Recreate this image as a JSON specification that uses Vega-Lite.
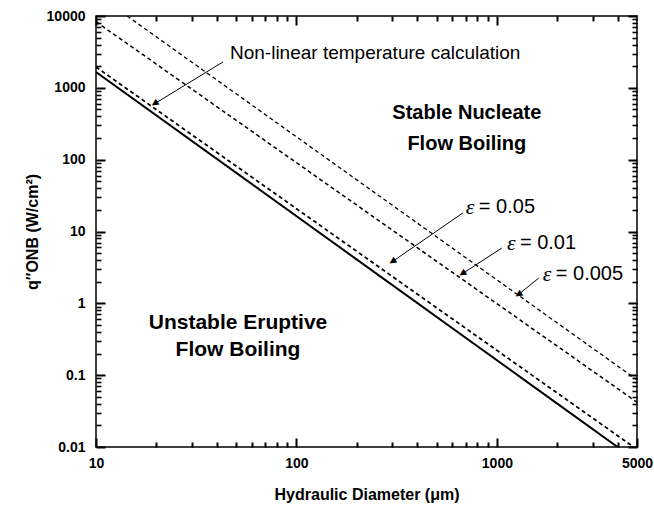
{
  "$schema": "https://vega.github.io/schema/vega-lite/v6.json",
  "width": 541,
  "height": 431,
  "autosize": "none",
  "padding": {"left": 96, "top": 16, "right": 17, "bottom": 59},
  "background": "white",
  "config": {
    "view": {"stroke": "black", "strokeWidth": 1.5},
    "font": "Liberation Sans",
    "axis": {"tickColor": "black", "tickWidth": 2, "domain": false, "grid": false, "ticks": true}
  },
  "datasets": {
    "lines": [
      {"series": "solid", "D": 10, "q": 1660},
      {"series": "solid", "D": 4000, "q": 0.01},
      {"series": "e005", "D": 10, "q": 1950},
      {"series": "e005", "D": 4810, "q": 0.01},
      {"series": "e001", "D": 10, "q": 8330},
      {"series": "e001", "D": 5000, "q": 0.042},
      {"series": "e0005", "D": 14.3, "q": 10000},
      {"series": "e0005", "D": 5000, "q": 0.086}
    ],
    "stable": [
      {"D": 708, "q": 447, "t": "Stable Nucleate"},
      {"D": 708, "q": 165, "t": "Flow Boiling"}
    ],
    "unstable": [
      {"D": 51.1, "q": 0.532, "t": "Unstable Eruptive"},
      {"D": 51.1, "q": 0.224, "t": "Flow Boiling"}
    ],
    "nonlin": [
      {"D": 46.6, "q": 3055, "t": "Non-linear temperature calculation"}
    ],
    "eps": [
      {"D": 700, "q": 21.9, "t": "= 0.05"},
      {"D": 1122, "q": 6.92, "t": "= 0.01"},
      {"D": 1694, "q": 2.56, "t": "= 0.005"}
    ],
    "arrows": [
      {"D": 43.0, "q": 2291, "D2": 19.5, "q2": 596},
      {"D": 676, "q": 18.1, "D2": 299, "q2": 3.76},
      {"D": 1059, "q": 5.89, "D2": 668, "q2": 2.56},
      {"D": 1618, "q": 2.25, "D2": 1274, "q2": 1.31}
    ]
  },
  "layer": [
    {
      "data": {"name": "lines"},
      "mark": {"type": "line", "color": "black", "clip": true},
      "encoding": {
        "x": {
          "field": "D", "type": "quantitative",
          "scale": {"type": "log", "domain": [10, 5000], "nice": false},
          "axis": {
            "orient": "bottom",
            "values": [10, 100, 1000, 5000],
            "labelExpr": "format(datum.value, '~r')",
            "tickSize": -9, "tickColor": "black", "tickWidth": 2,
            "labelFontWeight": "bold", "labelFontSize": 14, "labelColor": "black",
            "labelPadding": 18, "labelOverlap": false, "labelBound": false, "labelFlush": false,
            "title": "Hydraulic Diameter (μm)",
            "titleFontSize": 16, "titleFontWeight": "bold", "titleColor": "black",
            "titlePadding": 16
          }
        },
        "y": {
          "field": "q", "type": "quantitative",
          "scale": {"type": "log", "domain": [0.01, 10000], "nice": false},
          "axis": {
            "orient": "left",
            "values": [0.01, 0.1, 1, 10, 100, 1000, 10000],
            "labelExpr": "format(datum.value, '~r')",
            "tickSize": -9, "tickColor": "black", "tickWidth": 2,
            "labelFontWeight": "bold", "labelFontSize": 14, "labelColor": "black",
            "labelPadding": 20, "labelOverlap": false, "labelBound": false, "labelFlush": false,
            "title": "q″ONB (W/cm²)",
            "titleFontSize": 16, "titleFontWeight": "bold", "titleColor": "black",
            "titlePadding": 6
          }
        },
        "strokeDash": {
          "field": "series", "type": "nominal",
          "scale": {"domain": ["solid", "e005", "e001", "e0005"], "range": [[1, 0], [4, 3], [4, 3], [4, 3]]},
          "legend": null
        },
        "strokeWidth": {
          "field": "series", "type": "nominal",
          "scale": {"domain": ["solid", "e005", "e001", "e0005"], "range": [2, 1.3, 1.3, 1.3]},
          "legend": null
        }
      }
    },
    {
      "data": {"name": "arrows"},
      "mark": {"type": "rule", "color": "black", "strokeWidth": 1},
      "encoding": {
        "x": {
          "field": "D", "type": "quantitative",
          "scale": {"type": "log", "domain": [10, 5000], "nice": false},
          "axis": {
            "orient": "bottom",
            "values": [20,30,40,50,60,70,80,90,200,300,400,500,600,700,800,900,2000,3000,4000],
            "labels": false, "tickSize": -5, "tickColor": "black", "tickWidth": 2, "title": null
          }
        },
        "y": {
          "field": "q", "type": "quantitative",
          "scale": {"type": "log", "domain": [0.01, 10000], "nice": false},
          "axis": {
            "orient": "left",
            "values": [0.02,0.03,0.04,0.05,0.06,0.07,0.08,0.09,0.2,0.3,0.4,0.5,0.6,0.7,0.8,0.9,2,3,4,5,6,7,8,9,20,30,40,50,60,70,80,90,200,300,400,500,600,700,800,900,2000,3000,4000,5000,6000,7000,8000,9000],
            "labels": false, "tickSize": -5, "tickColor": "black", "tickWidth": 1.6, "title": null
          }
        },
        "x2": {"field": "D2"},
        "y2": {"field": "q2"}
      }
    },
    {
      "data": {"name": "arrows"},
      "mark": {"type": "text", "text": "▲", "font": "DejaVu Sans", "fontSize": 9, "angle": 237, "align": "center", "baseline": "middle", "color": "black"},
      "encoding": {
        "x": {
          "field": "D2", "type": "quantitative",
          "scale": {"type": "log", "domain": [10, 5000], "nice": false},
          "axis": {
            "orient": "top",
            "values": [20,30,40,50,60,70,80,90,200,300,400,500,600,700,800,900,2000,3000,4000],
            "labels": false, "tickSize": -5, "tickColor": "black", "tickWidth": 2, "title": null
          }
        },
        "y": {
          "field": "q2", "type": "quantitative",
          "scale": {"type": "log", "domain": [0.01, 10000], "nice": false},
          "axis": {
            "orient": "right",
            "values": [0.02,0.03,0.04,0.05,0.06,0.07,0.08,0.09,0.2,0.3,0.4,0.5,0.6,0.7,0.8,0.9,2,3,4,5,6,7,8,9,20,30,40,50,60,70,80,90,200,300,400,500,600,700,800,900,2000,3000,4000,5000,6000,7000,8000,9000],
            "labels": false, "tickSize": -5, "tickColor": "black", "tickWidth": 1.6, "title": null
          }
        }
      }
    },
    {
      "encoding": {
        "x": {
          "field": "D", "type": "quantitative",
          "scale": {"type": "log", "domain": [10, 5000], "nice": false},
          "axis": {
            "orient": "top",
            "values": [10, 100, 1000],
            "labels": false, "tickSize": -9, "tickColor": "black", "tickWidth": 2, "title": null
          }
        },
        "y": {
          "field": "q", "type": "quantitative",
          "scale": {"type": "log", "domain": [0.01, 10000], "nice": false},
          "axis": {
            "orient": "right",
            "values": [0.01, 0.1, 1, 10, 100, 1000, 10000],
            "labels": false, "tickSize": -9, "tickColor": "black", "tickWidth": 2, "title": null
          }
        }
      },
      "layer": [
        {
          "data": {"name": "nonlin"},
          "mark": {"type": "text", "align": "left", "baseline": "middle", "fontSize": 19, "color": "black"},
          "encoding": {"text": {"field": "t"}}
        },
        {
          "data": {"name": "stable"},
          "mark": {"type": "text", "align": "center", "baseline": "middle", "fontSize": 20, "fontWeight": "bold", "color": "black"},
          "encoding": {"text": {"field": "t"}}
        },
        {
          "data": {"name": "unstable"},
          "mark": {"type": "text", "align": "center", "baseline": "middle", "fontSize": 21, "fontWeight": "bold", "color": "black"},
          "encoding": {"text": {"field": "t"}}
        },
        {
          "data": {"name": "eps"},
          "mark": {"type": "text", "align": "left", "baseline": "middle", "fontSize": 22, "fontStyle": "italic", "font": "Liberation Serif", "text": "ε", "color": "black"}
        },
        {
          "data": {"name": "eps"},
          "mark": {"type": "text", "align": "left", "baseline": "middle", "fontSize": 20, "dx": 13, "color": "black"},
          "encoding": {"text": {"field": "t"}}
        }
      ]
    }
  ],
  "resolve": {"axis": {"x": "independent", "y": "independent"}}
}
